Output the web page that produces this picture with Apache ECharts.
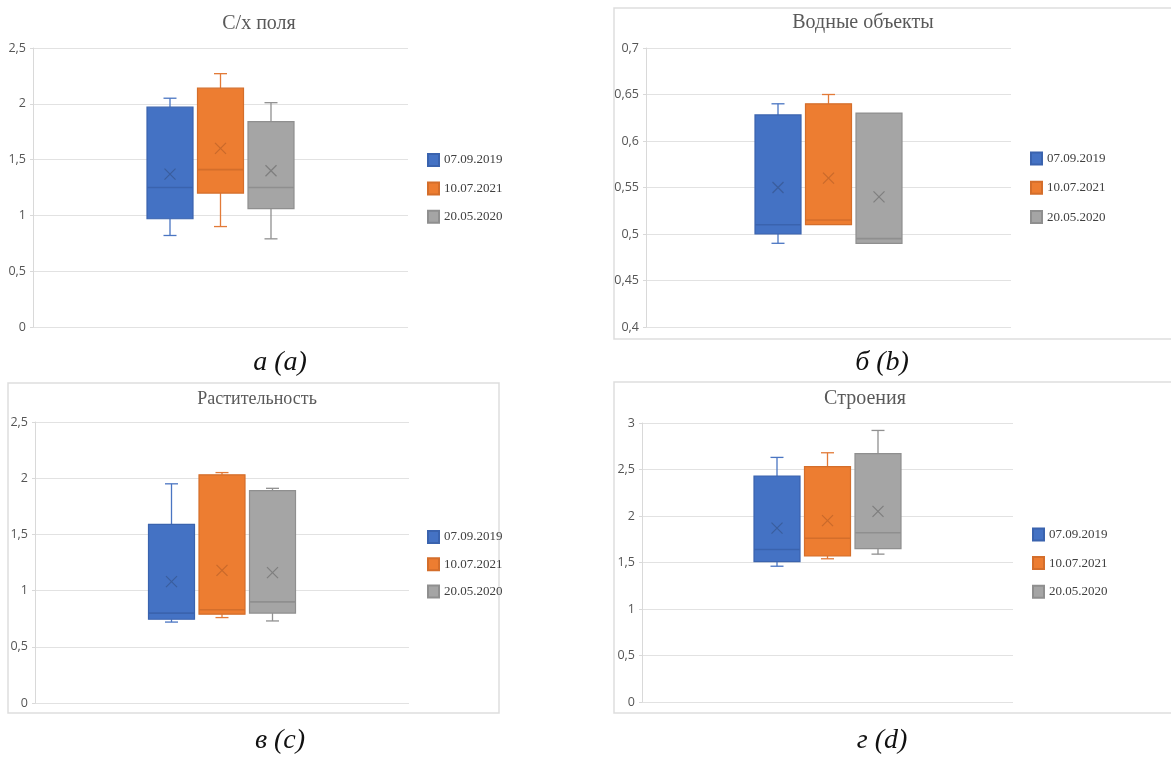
<!DOCTYPE html>
<html><head><meta charset="utf-8">
<script src="https://cdn.jsdelivr.net/npm/echarts@6/dist/echarts.min.js"></script>
<style>html,body{margin:0;padding:0;background:#fff}#c{width:1171px;height:758px}</style>
</head><body><div id="c"></div>
<script>
// ---------- data ----------
const SERIES_NAMES = ['07.09.2019', '10.07.2021', '20.05.2020'];
const PANEL_TITLES = ['С/х поля', 'Водные объекты', 'Растительность', 'Строения'];
const CAPTIONS = ['а (a)', 'б (b)', 'в (c)', 'г (d)'];

// each row: [min, Q1, median, Q3, max, mean] for 07.09.2019, 10.07.2021, 20.05.2020
const AGRI_FIELDS = [
  [0.82, 0.97, 1.25, 1.97, 2.05, 1.37],
  [0.90, 1.20, 1.41, 2.14, 2.27, 1.60],
  [0.79, 1.06, 1.25, 1.84, 2.01, 1.40]
];
const WATER_BODIES = [
  [0.49, 0.50, 0.51, 0.628, 0.64, 0.55],
  [0.51, 0.51, 0.515, 0.64, 0.65, 0.56],
  [0.49, 0.49, 0.495, 0.63, 0.63, 0.54]
];
const VEGETATION = [
  [0.72, 0.745, 0.80, 1.59, 1.95, 1.08],
  [0.76, 0.79, 0.83, 2.03, 2.05, 1.18],
  [0.73, 0.80, 0.90, 1.89, 1.91, 1.16]
];
const BUILDINGS = [
  [1.46, 1.51, 1.64, 2.43, 2.63, 1.87],
  [1.54, 1.57, 1.76, 2.53, 2.68, 1.95],
  [1.59, 1.65, 1.82, 2.67, 2.92, 2.05]
];
const PANEL_DATA = [AGRI_FIELDS, WATER_BODIES, VEGETATION, BUILDINGS];

// y tick values (labels are shown with decimal comma)
const TICKS_A = [0, 0.5, 1, 1.5, 2, 2.5];
const TICKS_B = [0.4, 0.45, 0.5, 0.55, 0.6, 0.65, 0.7];
const TICKS_C = [0, 0.5, 1, 1.5, 2, 2.5];
const TICKS_D = [0, 0.5, 1, 1.5, 2, 2.5, 3];
const PANEL_TICKS = [TICKS_A, TICKS_B, TICKS_C, TICKS_D];

// ---------- styles / layout ----------
const FILL  = ['#4472C4', '#ED7D31', '#A5A5A5'];
const EDGE  = ['#3A63AE', '#D46E2B', '#8F8F8F'];
const WHISK = ['#4A75C2', '#E27A38', '#909090'];
const MARK  = ['#3A5E9E', '#C9692B', '#7E7E7E'];
const SLOT = 50.5, BOX_W = 46, CAP_W = 13, X_SIZE = 11;

const LAYOUT = [
  { grid: {left: 33, top: 48, width: 375, height: 279}, title: {x: 259, y: 14, size: 20},
    legend: {x: 427, y: 153, gap: 14.4}, caption: {x: 280, y: 363} },
  { grid: {left: 646, top: 48, width: 365, height: 279}, title: {x: 863, y: 13, size: 20},
    legend: {x: 1030, y: 151.5, gap: 15.3}, caption: {x: 882, y: 363} },
  { grid: {left: 35, top: 422, width: 374, height: 281}, title: {x: 257, y: 390, size: 18},
    legend: {x: 427, y: 530, gap: 13.2}, caption: {x: 280, y: 741} },
  { grid: {left: 642, top: 423, width: 371, height: 279}, title: {x: 865, y: 389, size: 20},
    legend: {x: 1032, y: 527.5, gap: 14.6}, caption: {x: 882, y: 741} }
];

function line(x1, y1, x2, y2, style) {
  return {type: 'line', shape: {x1, y1, x2, y2}, style};
}
function makeRender(si) {
  const off = (si - 1) * SLOT;
  return function (params, api) {
    const cat = api.value(0);
    const p = k => api.coord([cat, api.value(k)]);
    const xc = p(3)[0] + off;
    const yMin = p(1)[1], yQ1 = p(2)[1], yMed = p(3)[1], yQ3 = p(4)[1], yMax = p(5)[1], yMean = p(6)[1];
    const hw = BOX_W / 2, hc = CAP_W / 2, hx = X_SIZE / 2;
    const ws = {stroke: WHISK[si], lineWidth: 1.3};
    const ch = [];
    if (yQ3 - yMax > 0.8) {
      ch.push(line(xc, yMax, xc, yQ3, ws));
      ch.push(line(xc - hc, yMax, xc + hc, yMax, ws));
    }
    if (yMin - yQ1 > 0.8) {
      ch.push(line(xc, yQ1, xc, yMin, ws));
      ch.push(line(xc - hc, yMin, xc + hc, yMin, ws));
    }
    ch.push({type: 'rect', shape: {x: xc - hw, y: yQ3, width: BOX_W, height: yQ1 - yQ3},
             style: {fill: FILL[si], stroke: EDGE[si], lineWidth: 1.2}});
    ch.push(line(xc - hw, yMed, xc + hw, yMed, {stroke: EDGE[si], lineWidth: 1.6}));
    const ms = {stroke: MARK[si], lineWidth: 1.2};
    ch.push(line(xc - hx, yMean - hx, xc + hx, yMean + hx, ms));
    ch.push(line(xc - hx, yMean + hx, xc + hx, yMean - hx, ms));
    return {type: 'group', children: ch};
  };
}
const fmt = v => String(+v.toFixed(4)).replace('.', ',');

const grids = [], xAxes = [], yAxes = [], titles = [], legends = [], series = [], graphics = [];
PANEL_DATA.forEach((pd, pi) => {
  const L = LAYOUT[pi];
  const ticks = PANEL_TICKS[pi];
  grids.push(L.grid);
  xAxes.push({type: 'category', gridIndex: pi, data: [''], boundaryGap: true,
    axisLine: {show: false}, axisTick: {show: false}, axisLabel: {show: false}, splitLine: {show: false}});
  yAxes.push({type: 'value', gridIndex: pi, min: ticks[0], max: ticks[ticks.length - 1],
    interval: +(ticks[1] - ticks[0]).toFixed(4),
    axisLine: {show: true, lineStyle: {color: '#d9d9d9', width: 1}},
    axisTick: {show: true, length: 3, lineStyle: {color: '#d9d9d9'}},
    axisLabel: {formatter: fmt, color: '#555555', fontSize: 12.5, fontFamily: 'Open Sans', margin: 7},
    splitLine: {show: true, lineStyle: {color: '#e2e2e2', width: 1.2}}});
  titles.push({text: PANEL_TITLES[pi], left: L.title.x, top: L.title.y, textAlign: 'center', padding: 0,
    textStyle: {fontFamily: 'Liberation Serif', fontWeight: 'normal', fontSize: L.title.size, color: '#595959'}});
  legends.push({orient: 'vertical', left: L.legend.x, top: L.legend.y, itemGap: L.legend.gap,
    itemWidth: 11, itemHeight: 12, icon: 'rect', padding: 0, selectedMode: false,
    data: SERIES_NAMES.slice(),
    textStyle: {fontFamily: 'Liberation Serif', fontSize: 13, color: '#404040'}});
  pd.forEach((row, si) => {
    series.push({type: 'custom', name: SERIES_NAMES[si], xAxisIndex: pi, yAxisIndex: pi,
      renderItem: makeRender(si),
      itemStyle: {color: FILL[si], borderColor: EDGE[si], borderWidth: 1},
      encode: {x: 0, y: [1, 2, 3, 4, 5, 6]},
      data: [[0].concat(row)]});
  });
  graphics.push({type: 'text',
    style: {text: CAPTIONS[pi], x: L.caption.x, y: L.caption.y, align: 'center', verticalAlign: 'middle',
      font: 'italic 28px "Liberation Serif"', fill: '#111'}});
});
// panel frames
const FRAMES = [
  {x: 614, y: 8, w: 620, h: 331},
  {x: 8, y: 383, w: 491, h: 330},
  {x: 614, y: 382, w: 620, h: 331}
];
FRAMES.forEach(f => graphics.push({type: 'rect', silent: true, z: -1,
  shape: {x: f.x, y: f.y, width: f.w, height: f.h},
  style: {fill: 'none', stroke: '#dedede', lineWidth: 1.5}}));

const chart = echarts.init(document.getElementById('c'), null, {renderer: 'canvas'});
chart.setOption({
  animation: false,
  backgroundColor: '#fff',
  title: titles, legend: legends, grid: grids, xAxis: xAxes, yAxis: yAxes,
  series: series, graphic: graphics
});
</script></body></html>
